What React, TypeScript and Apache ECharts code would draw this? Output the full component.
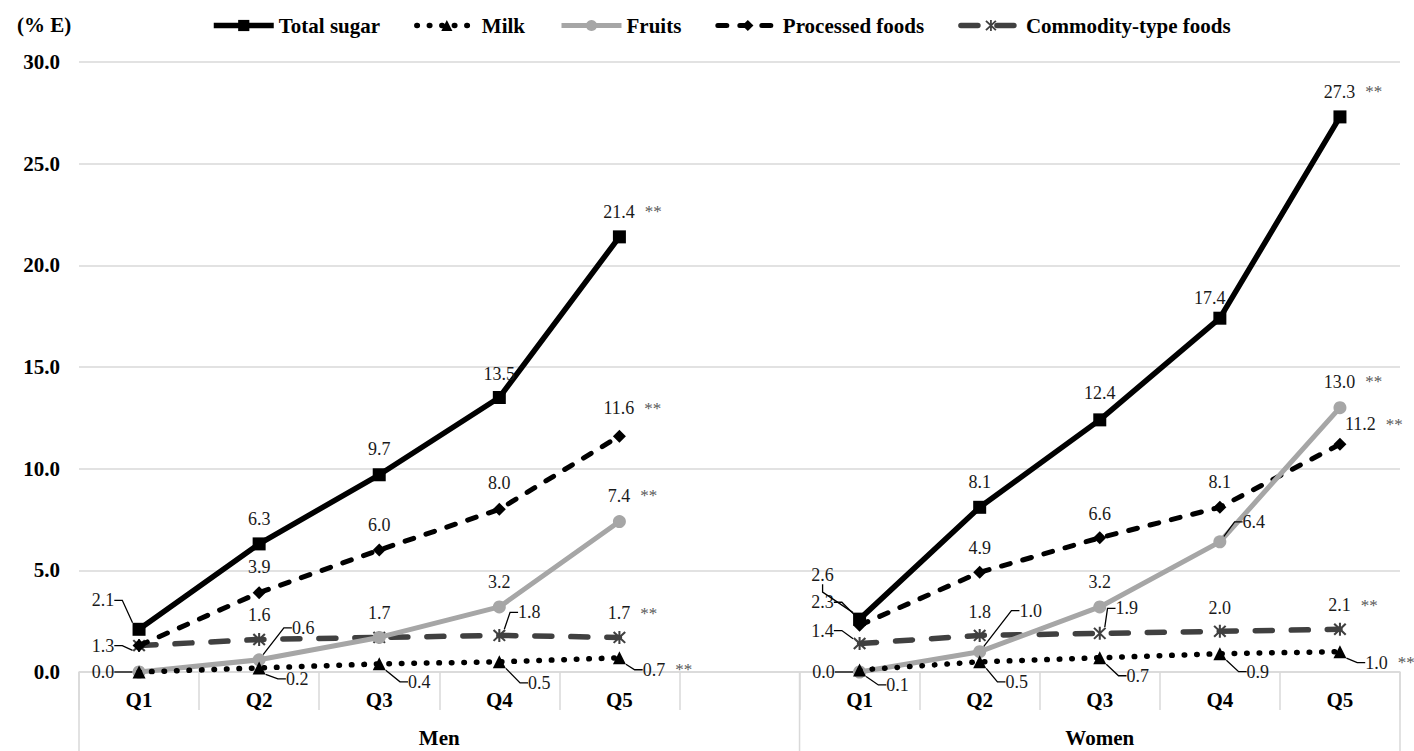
import React, { useEffect, useRef } from "react";
import * as echarts from "echarts";

const FONT = "'Liberation Serif', 'Times New Roman', serif";

const quintiles = ["Q1", "Q2", "Q3", "Q4", "Q5"];
const groups = ["Men", "Women"];
const significance = ["", "", "", "", "**"];
const yMin = 0;
const yMax = 30;
const yStep = 5;

const totalSugarMen = [2.1, 6.3, 9.7, 13.5, 21.4];
const totalSugarWomen = [2.6, 8.1, 12.4, 17.4, 27.3];
const milkMen = [0.0, 0.2, 0.4, 0.5, 0.7];
const milkWomen = [0.1, 0.5, 0.7, 0.9, 1.0];
const fruitsMen = [0.0, 0.6, 1.7, 3.2, 7.4];
const fruitsWomen = [0.0, 1.0, 3.2, 6.4, 13.0];
const processedMen = [1.3, 3.9, 6.0, 8.0, 11.6];
const processedWomen = [2.3, 4.9, 6.6, 8.1, 11.2];
const commodityMen = [1.3, 1.6, 1.7, 1.8, 1.7];
const commodityWomen = [1.4, 1.8, 1.9, 2.0, 2.1];

// label placement (offset from point centre, leader line flag); null = label hidden
type Place = [number, number, number] | null;
const placeTotal: Place[] = [
  [-36, -29, 1], [0, -25, 0], [0, -26, 0], [0, -24, 0], [0, -25, 0],
  [-37, -44, 1], [0, -25, 0], [0, -27, 0], [-10, -20, 0], [0, -25, 0],
];
const placeMilk: Place[] = [
  null, [38, 11, 1], [40, 18, 1], [40, 21, 1], [35, 12, 1],
  [38, 15, 1], [37, 20, 1], [38, 18, 1], [38, 18, 1], [37, 11, 1],
];
const placeFruits: Place[] = [
  [-36, 0, 1], [44, -32, 1], null, [0, -25, 0], [0, -26, 0],
  [-36, 0, 1], [51, -41, 1], [0, -25, 0], [34, -20, 1], [0, -26, 0],
];
const placeProcessed: Place[] = [
  null, [0, -26, 0], [0, -25, 0], [0, -26, 0], [0, -28, 0],
  [-37, -23, 1], [0, -24, 0], [0, -24, 0], [0, -25, 0], [21, -20, 0],
];
const placeCommodity: Place[] = [
  [-36, 0, 1], [0, -24, 0], [0, -24, 0], [30, -23, 1], [0, -24, 0],
  [-37, -13, 1], [0, -23, 0], [27, -25, 1], [0, -23, 0], [0, -24, 0],
];

const STAR =
  "path://M5.1,0L6.9,0L6.9,12L5.1,12Z M0.3,1.6L1.6,0.3L11.7,10.4L10.4,11.7Z M10.4,0.3L11.7,1.6L1.6,11.7L0.3,10.4Z";

const categories = [...quintiles, "", ...quintiles];

function placeIndex(dataIndex: number) {
  return dataIndex < 5 ? dataIndex : dataIndex - 1;
}

function sigFor(dataIndex: number) {
  const k = dataIndex < 5 ? dataIndex : dataIndex - 6;
  return significance[k] || "";
}

function buildData(men: number[], women: number[], places: Place[]) {
  const values: (number | null)[] = [...men, null, ...women];
  return values.map((v, i) => {
    if (v === null) return "-";
    const p = places[placeIndex(i)];
    return {
      value: v,
      label: { show: !!p },
      labelLine: { show: !!(p && p[2]) },
    };
  });
}

const seriesDefs = [
  {
    name: "Total sugar",
    men: totalSugarMen,
    women: totalSugarWomen,
    places: placeTotal,
    symbol: "rect",
    symbolSize: 13,
    color: "#000000",
    lineStyle: { width: 5.5, type: "solid" as any },
  },
  {
    name: "Milk",
    men: milkMen,
    women: milkWomen,
    places: placeMilk,
    symbol: "triangle",
    symbolSize: 13,
    color: "#000000",
    lineStyle: { width: 5.5, type: [0.5, 12] as any, cap: "round" },
  },
  {
    name: "Fruits",
    men: fruitsMen,
    women: fruitsWomen,
    places: placeFruits,
    symbol: "circle",
    symbolSize: 13,
    color: "#a6a6a6",
    lineStyle: { width: 5, type: "solid" as any },
  },
  {
    name: "Processed foods",
    men: processedMen,
    women: processedWomen,
    places: placeProcessed,
    symbol: "diamond",
    symbolSize: 13,
    color: "#000000",
    lineStyle: { width: 5, type: [9, 13] as any, cap: "round" },
  },
  {
    name: "Commodity-type foods",
    men: commodityMen,
    women: commodityWomen,
    places: placeCommodity,
    symbol: STAR,
    symbolSize: 13,
    color: "#404040",
    lineStyle: { width: 5.5, type: [17, 19] as any, cap: "round" },
  },
];

export default function App() {
  const ref = useRef<HTMLDivElement>(null);

  useEffect(() => {
    if (!ref.current) return;
    const chart = echarts.init(ref.current, null, { renderer: "svg" });

    const series = seriesDefs.map((d, si) => ({
      type: "line",
      name: d.name,
      data: buildData(d.men, d.women, d.places),
      symbol: d.symbol,
      symbolSize: d.symbolSize,
      showSymbol: true,
      connectNulls: false,
      itemStyle: { color: d.color, borderWidth: 0 },
      lineStyle: { color: d.color, ...d.lineStyle },
      z: 10 - si,
      label: {
        show: true,
        position: "inside",
        formatter: (p: any) => {
          const sig = sigFor(p.dataIndex);
          const txt = "{v|" + Number(p.value).toFixed(1) + "}";
          return sig ? txt + "{s|" + sig + "}" : txt;
        },
        rich: {
          v: { fontSize: 18, fontFamily: FONT, color: "#1a1a1a" },
          s: { fontSize: 17, fontFamily: FONT, color: "#595959", padding: [0, 0, 0, 10] },
        },
      },
      labelLine: {
        show: false,
        length2: 8,
        lineStyle: { color: "#000000", width: 1.3 },
      },
      labelLayout: (params: any) => {
        const p = d.places[placeIndex(params.dataIndex)];
        if (!p) return {};
        const shift = sigFor(params.dataIndex) ? 13 : 0;
        return { dx: p[0] + shift, dy: p[1] };
      },
      emphasis: { disabled: true },
    }));

    const option: any = {
      animation: false,
      backgroundColor: "#ffffff",
      title: {
        text: "(% E)",
        left: 12,
        top: 9,
        textStyle: { fontSize: 21, fontWeight: "bold", fontFamily: FONT, color: "#000" },
      },
      legend: {
        top: 10,
        left: 206,
        itemWidth: 60,
        itemHeight: 14,
        itemGap: 34,
        data: seriesDefs.map((d) => d.name),
        lineStyle: { width: "inherit", type: "inherit", cap: "inherit" },
        textStyle: { fontSize: 21, fontWeight: "bold", fontFamily: FONT, color: "#000" },
      },
      grid: { left: 79, right: 14, top: 62, bottom: 79, containLabel: false },
      xAxis: {
        type: "category",
        data: categories,
        boundaryGap: true,
        axisLine: { show: true, lineStyle: { color: "#d9d9d9", width: 1.5 } },
        axisTick: { show: true, interval: 0, length: 38, lineStyle: { color: "#d9d9d9", width: 1.5 } },
        axisLabel: {
          interval: 0,
          margin: 17,
          fontSize: 21,
          fontWeight: "bold",
          fontFamily: FONT,
          color: "#000",
        },
        splitLine: { show: false },
      },
      yAxis: {
        type: "value",
        min: yMin,
        max: yMax,
        interval: yStep,
        axisLine: { show: false },
        axisTick: { show: false },
        axisLabel: {
          margin: 19,
          formatter: (v: number) => v.toFixed(1),
          fontSize: 21,
          fontWeight: "bold",
          fontFamily: FONT,
          color: "#000",
        },
        splitLine: { lineStyle: { color: "#d9d9d9", width: 1.5 } },
      },
      series,
    };

    chart.setOption(option);

    const c0 = chart.convertToPixel({ xAxisIndex: 0 }, 0) as number;
    const c1 = chart.convertToPixel({ xAxisIndex: 0 }, 1) as number;
    const band = c1 - c0;
    const left = c0 - band / 2;
    const mid = left + 6 * band;
    const right = left + categories.length * band;
    const yZero = chart.convertToPixel({ yAxisIndex: 0 }, 0) as number;
    const bottom = chart.getHeight();
    const lineStyle = { stroke: "#d9d9d9", lineWidth: 1.5 };
    const groupY = yZero + 66;

    chart.setOption({
      graphic: [
        ...[left, mid, right].map((x) => ({
          type: "line",
          shape: { x1: x, y1: yZero, x2: x, y2: bottom },
          style: lineStyle,
          silent: true,
        })),
        {
          type: "text",
          x: (left + mid) / 2,
          y: groupY,
          style: {
            text: groups[0],
            fontSize: 21,
            fontWeight: "bold",
            fontFamily: FONT,
            fill: "#000",
            align: "center",
            verticalAlign: "middle",
          },
        },
        {
          type: "text",
          x: (mid + right) / 2,
          y: groupY,
          style: {
            text: groups[1],
            fontSize: 21,
            fontWeight: "bold",
            fontFamily: FONT,
            fill: "#000",
            align: "center",
            verticalAlign: "middle",
          },
        },
      ],
    });

    return () => chart.dispose();
  }, []);

  return (
    <div
      ref={ref}
      style={{ position: "fixed", left: 0, top: 0, width: 1414, height: 751, background: "#fff" }}
    />
  );
}
